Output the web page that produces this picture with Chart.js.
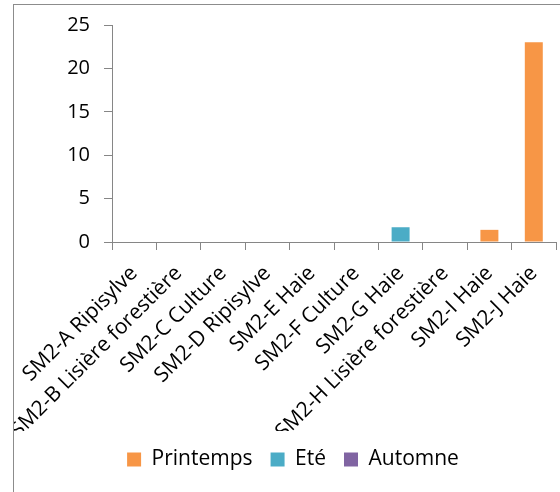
<!DOCTYPE html>
<html>
<head>
<meta charset="utf-8">
<script src="https://cdn.jsdelivr.net/npm/chart.js@4"></script>
<style>
  html, body { margin: 0; padding: 0; overflow: hidden; background: #fff; }
  #frame {
    position: absolute; left: 13px; top: 4px;
    width: 558px; height: 500px;
    border: 1px solid #8c8c8c;
    background: #fff;
  }
  #chart { display: block; }
</style>
</head>
<body>
<div id="frame"><canvas id="chart" width="558" height="488"></canvas></div>
<script>
// Stations and counts per season
const categories = [
  'SM2-A Ripisylve',
  'SM2-B Lisière forestière',
  'SM2-C Culture',
  'SM2-D Ripisylve',
  'SM2-E Haie',
  'SM2-F Culture',
  'SM2-G Haie',
  'SM2-H Lisière forestière',
  'SM2-I Haie',
  'SM2-J Haie'
];
const printemps = [0, 0, 0, 0, 0, 0, 0, 0, 1.4, 23];
const ete       = [0, 0, 0, 0, 0, 0, 1.7, 0, 0, 0];
const automne   = [0, 0, 0, 0, 0, 0, 0, 0, 0, 0];
const yTicks = [0, 5, 10, 15, 20, 25];

const FONT = "'Open Sans', 'Liberation Sans', sans-serif";
const AXIS = '#868686';

new Chart(document.getElementById('chart'), {
  type: 'bar',
  data: {
    labels: categories,
    datasets: [
      { label: 'Printemps', data: printemps, backgroundColor: '#F79646' },
      { label: 'Eté', data: ete, backgroundColor: '#4BACC6' },
      { label: 'Automne', data: automne, backgroundColor: '#8064A2' }
    ]
  },
  options: {
    responsive: false,
    animation: false,
    layout: { padding: { left: 16, right: 16, top: 20, bottom: 13 } },
    datasets: { bar: { categoryPercentage: 1, barPercentage: 0.405, borderWidth: 0 } },
    plugins: {
      tooltip: { enabled: false },
      legend: {
        position: 'bottom',
        labels: {
          boxWidth: 14, boxHeight: 14, padding: 18,
          color: '#000',
          font: { family: FONT, size: 21 }
        }
      }
    },
    scales: {
      x: {
        stacked: true,
        offset: true,
        afterFit: s => {
          s.height = 189;
          s.paddingLeft = 0; s.paddingRight = 0;
        },
        border: { display: true, color: AXIS, width: 1 },
        grid: { display: true, offset: true, drawOnChartArea: false, drawTicks: true, tickLength: 8, color: AXIS },
        ticks: {
          autoSkip: false, maxRotation: 45, minRotation: 45,
          color: '#000', padding: 11,
          font: { family: FONT, size: 21 }
        }
      },
      y: {
        stacked: true,
        min: 0, max: 25,
        afterFit: s => {
          s.width = 82;
          s.paddingTop = 0; s.paddingBottom = 0;
        },
        afterBuildTicks: s => { s.ticks = yTicks.map(v => ({ value: v })); },
        border: { display: true, color: AXIS, width: 1 },
        grid: { display: true, drawOnChartArea: false, drawTicks: true, tickLength: 8, color: AXIS },
        ticks: {
          color: '#000', padding: 14,
          font: { family: FONT, size: 20 }
        }
      }
    }
  }
});
</script>
</body>
</html>
